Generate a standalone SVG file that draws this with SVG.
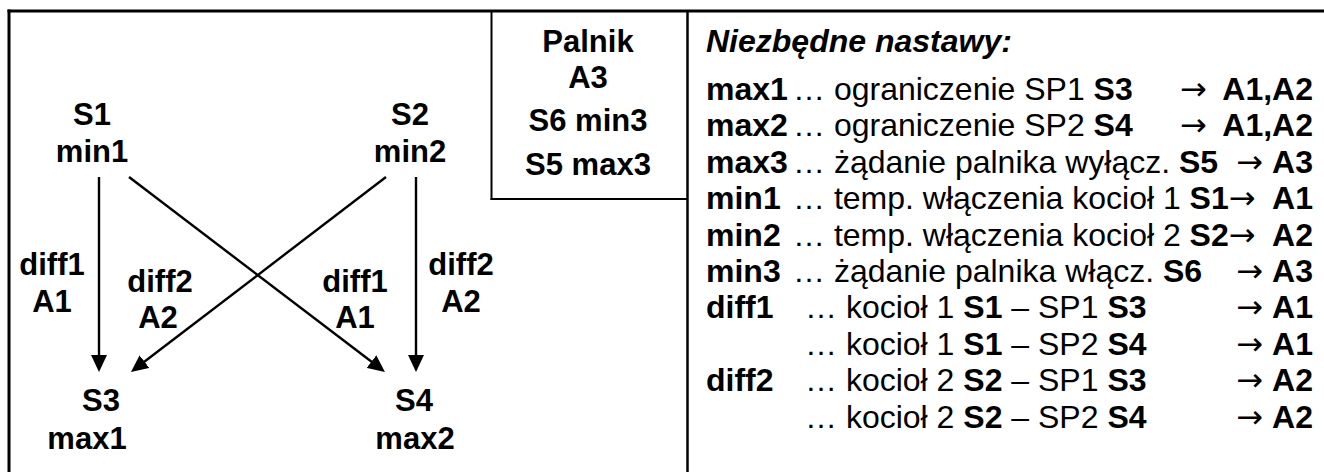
<svg xmlns="http://www.w3.org/2000/svg" width="1324" height="472" viewBox="0 0 1324 472">
<style>
text{font-family:"Liberation Sans",Arial,sans-serif;fill:#000}
.lb{font-weight:bold;font-size:31px;text-anchor:middle}
.rt{font-size:32px}
.b{font-weight:bold}
.e{text-anchor:end}
.ar{font-family:"DejaVu Sans",sans-serif;font-size:32px;font-weight:normal}
.frame{stroke:#000;fill:none}
.conn{stroke:#000;stroke-width:2.4;fill:none}
</style>
<defs>
<marker id="ah" markerUnits="userSpaceOnUse" markerWidth="17" markerHeight="16" refX="6" refY="8" orient="auto">
<path d="M0,0 L17,8 L0,16 z" fill="#000"/>
</marker>
</defs>
<rect width="1324" height="472" fill="#fff"/>
<g id="frame" class="frame">
<line x1="7.5" y1="11" x2="1324" y2="11" stroke-width="3"/>
<line x1="9" y1="9.5" x2="9" y2="472" stroke-width="3"/>
<line x1="687.5" y1="11" x2="687.5" y2="472" stroke-width="2.5"/>
<line x1="491.5" y1="11" x2="491.5" y2="200" stroke-width="2"/>
<line x1="490.5" y1="199" x2="687" y2="199" stroke-width="2"/>
</g>
<g id="connectors">
<line class="conn" x1="99" y1="177" x2="99" y2="361" marker-end="url(#ah)"/>
<line class="conn" x1="129" y1="177" x2="376.2" y2="365.3" marker-end="url(#ah)"/>
<line class="conn" x1="386" y1="177" x2="139.7" y2="365.3" marker-end="url(#ah)"/>
<line class="conn" x1="416" y1="177" x2="416" y2="361" marker-end="url(#ah)"/>
</g>
<g id="node-S1"><text class="lb" x="92" y="125">S1</text><text class="lb" x="92" y="162">min1</text></g>
<g id="node-S2"><text class="lb" x="410" y="125">S2</text><text class="lb" x="410" y="162">min2</text></g>
<g id="node-S3"><text class="lb" x="101" y="411">S3</text><text class="lb" x="87" y="449">max1</text></g>
<g id="node-S4"><text class="lb" x="414" y="411">S4</text><text class="lb" x="415" y="449">max2</text></g>
<g id="labels">
<text class="lb" x="52" y="275">diff1</text><text class="lb" x="52" y="312">A1</text>
<text class="lb" x="160" y="292">diff2</text><text class="lb" x="158" y="328">A2</text>
<text class="lb" x="355" y="292">diff1</text><text class="lb" x="355" y="328">A1</text>
<text class="lb" x="461" y="275">diff2</text><text class="lb" x="461" y="312">A2</text>
</g>
<g id="node-Palnik">
<text class="lb" x="588" y="52">Palnik</text>
<text class="lb" x="588" y="88">A3</text>
<text class="lb" x="588" y="131">S6 min3</text>
<text class="lb" x="588" y="175">S5 max3</text>
</g>
<g id="legend" class="rt">
<text class="rt b" x="706" y="52" font-style="italic">Niezbędne nastawy:</text>

<text class="rt b" x="706" y="100">max1</text>
<text class="rt" x="793" y="100">… ograniczenie SP1 <tspan class="b">S3</tspan></text>
<text class="ar" x="1180" y="100">→</text>
<text class="rt b e" x="1313" y="100">A1,A2</text>

<text class="rt b" x="706" y="136">max2</text>
<text class="rt" x="793" y="136">… ograniczenie SP2 <tspan class="b">S4</tspan></text>
<text class="ar" x="1180" y="136">→</text>
<text class="rt b e" x="1313" y="136">A1,A2</text>

<text class="rt b" x="706" y="173">max3</text>
<text class="rt" x="793" y="173">… żądanie palnika wyłącz. <tspan class="b">S5</tspan></text>
<text class="ar e" x="1263" y="173">→</text>
<text class="rt b e" x="1313" y="173">A3</text>

<text class="rt b" x="706" y="209">min1</text>
<text class="rt" x="793" y="209">… temp. włączenia kocioł 1 <tspan class="b">S1</tspan><tspan class="ar">→</tspan></text>
<text class="rt b e" x="1313" y="209">A1</text>

<text class="rt b" x="706" y="246">min2</text>
<text class="rt" x="793" y="246">… temp. włączenia kocioł 2 <tspan class="b">S2</tspan><tspan class="ar">→</tspan></text>
<text class="rt b e" x="1313" y="246">A2</text>

<text class="rt b" x="706" y="282">min3</text>
<text class="rt" x="793" y="282">… żądanie palnika włącz. <tspan class="b">S6</tspan></text>
<text class="ar e" x="1263" y="282">→</text>
<text class="rt b e" x="1313" y="282">A3</text>

<text class="rt b" x="706" y="318">diff1</text>
<text class="rt" x="805" y="318">… kocioł 1 <tspan class="b">S1</tspan> – SP1 <tspan class="b">S3</tspan></text>
<text class="ar e" x="1263" y="318">→</text>
<text class="rt b e" x="1313" y="318">A1</text>

<text class="rt" x="805" y="355">… kocioł 1 <tspan class="b">S1</tspan> – SP2 <tspan class="b">S4</tspan></text>
<text class="ar e" x="1263" y="355">→</text>
<text class="rt b e" x="1313" y="355">A1</text>

<text class="rt b" x="706" y="391">diff2</text>
<text class="rt" x="805" y="391">… kocioł 2 <tspan class="b">S2</tspan> – SP1 <tspan class="b">S3</tspan></text>
<text class="ar e" x="1263" y="391">→</text>
<text class="rt b e" x="1313" y="391">A2</text>

<text class="rt" x="805" y="428">… kocioł 2 <tspan class="b">S2</tspan> – SP2 <tspan class="b">S4</tspan></text>
<text class="ar e" x="1263" y="428">→</text>
<text class="rt b e" x="1313" y="428">A2</text>
</g>
</svg>
